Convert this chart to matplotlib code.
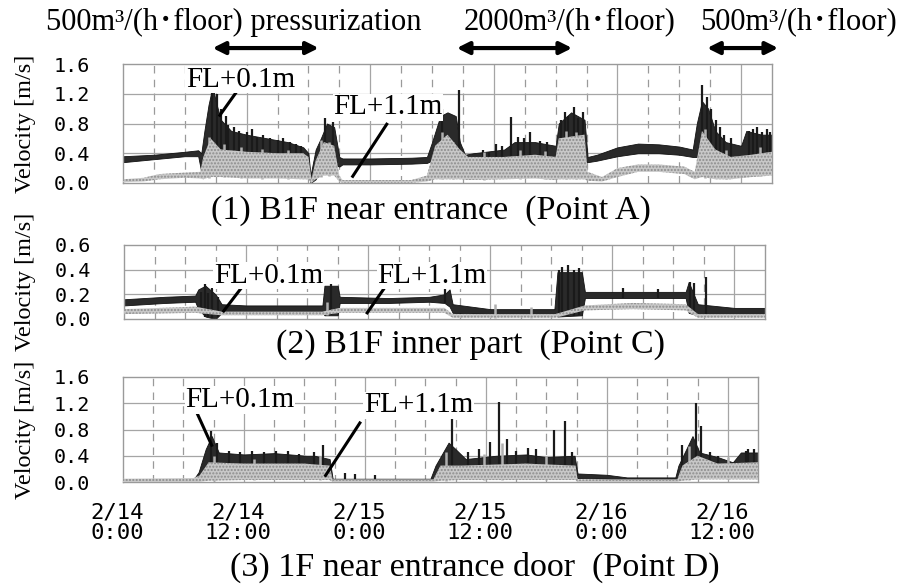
import numpy as np
import matplotlib.pyplot as plt
from matplotlib import transforms

# hours since 2/14 0:00
# (1) B1F near entrance (Point A)
a_blk_t = [0, 3, 6, 7.3, 7.6, 7.9, 8.3, 8.7, 9.0, 9.5, 10.5, 12, 14, 16, 17.5, 18.0, 18.2, 18.7, 19.2, 19.8,
           20.5, 21.0, 21.3, 24, 28, 29.5, 30.0, 30.8, 31.5, 32.3, 32.7, 33.2, 34, 37, 38, 40, 42.0, 42.3,
           43.5, 44.8, 45.1, 46, 48, 50, 52, 54, 55.3, 55.7, 56.2, 56.8, 57.5, 58.5, 60, 60.5, 62, 63]
a_blk_lo = [0.28, 0.32, 0.36, 0.36, 0.15, 0.30, 0.40, 0.50, 0.45, 0.40, 0.35, 0.35, 0.32, 0.32, 0.30, 0.25,
            0.00, 0.05, 0.20, 0.25, 0.25, 0.22, 0.25, 0.25, 0.26, 0.27, 0.30, 0.40, 0.45, 0.40, 0.30, 0.25,
            0.20, 0.25, 0.25, 0.28, 0.25, 0.30, 0.35, 0.30, 0.28, 0.30, 0.36, 0.40, 0.40, 0.38, 0.35, 0.35,
            0.45, 0.40, 0.30, 0.25, 0.25, 0.35, 0.35, 0.40]
a_blk_hi = [0.36, 0.38, 0.42, 0.44, 0.40, 0.70, 1.05, 1.30, 1.10, 0.85, 0.70, 0.65, 0.60, 0.55, 0.48, 0.40,
            0.10, 0.45, 0.60, 0.80, 0.75, 0.35, 0.33, 0.33, 0.34, 0.35, 0.55, 0.90, 0.95, 0.90, 0.55, 0.38,
            0.40, 0.45, 0.55, 0.55, 0.50, 0.80, 0.95, 0.85, 0.35, 0.38, 0.48, 0.53, 0.52, 0.49, 0.45, 0.80,
            1.10, 1.00, 0.70, 0.55, 0.50, 0.70, 0.65, 0.65]
a_spk_t = [8.6, 9.1, 9.5, 10.0, 10.2, 10.8, 11.3, 12.0, 12.5, 13.0, 13.6, 14.3, 15.0, 15.5, 16.2, 16.8, 17.3,
           19.6, 20.4, 31.0, 32.6, 34.9, 35.5, 36.2, 36.8, 37.7, 38.3, 38.9, 39.5, 40.5, 41.2, 42.5, 42.9,
           43.2, 43.8, 44.2, 44.7, 56.2, 56.7, 57.1, 57.6, 58.0, 58.3, 59.0, 60.8, 61.2, 61.5, 62.0, 62.5,
           62.8]
a_spk_v = [1.36, 1.20, 1.00, 0.90, 0.78, 0.75, 0.70, 0.68, 0.72, 0.62, 0.65, 0.60, 0.58, 0.60, 0.55, 0.52,
           0.50, 0.88, 0.82, 1.00, 1.25, 0.45, 0.42, 0.52, 0.50, 0.89, 0.62, 0.60, 0.68, 0.57, 0.55, 0.85,
           0.95, 0.90, 1.02, 0.88, 0.95, 1.32, 1.15, 1.00, 0.85, 0.75, 0.65, 0.60, 0.70, 0.72, 0.75, 0.68,
           0.72, 0.68]
a_gry_t = [0, 2, 3.5, 6, 7.5, 7.8, 8.5, 9.5, 12, 15, 17.5, 18.0, 18.3, 18.7, 19.5, 20.5, 21.0, 21.3, 28,
           29.5, 30.3, 31.5, 32.7, 33.5, 37, 40, 42.0, 42.3, 44.8, 45.1, 46.5, 48, 50, 52, 54.5, 55.5,
           56.2, 57.5, 59, 61, 63]
a_gry_lo = [0.01, 0.02, 0.05, 0.07, 0.06, 0.05, 0.08, 0.08, 0.06, 0.06, 0.05, 0.05, 0.00, 0.05, 0.10, 0.10,
            0.02, 0.00, 0.00, 0.02, 0.05, 0.05, 0.05, 0.04, 0.05, 0.06, 0.04, 0.05, 0.05, 0.03, 0.02, 0.08,
            0.15, 0.15, 0.12, 0.05, 0.08, 0.05, 0.05, 0.08, 0.10]
a_gry_hi = [0.05, 0.07, 0.12, 0.14, 0.15, 0.35, 0.60, 0.45, 0.42, 0.40, 0.40, 0.35, 0.05, 0.30, 0.55, 0.50,
            0.10, 0.04, 0.04, 0.10, 0.50, 0.65, 0.45, 0.35, 0.35, 0.38, 0.35, 0.60, 0.65, 0.15, 0.08, 0.20,
            0.25, 0.25, 0.22, 0.15, 0.70, 0.45, 0.35, 0.38, 0.42]
a_gsp_t = [8.3, 9.8, 11.5, 13.5, 16.0, 19.2, 20.0, 31.0, 32.0, 35.0, 38.5, 41.0, 43.0, 44.0, 56.5, 58.5, 61.8]
a_gsp_v = [0.62, 0.52, 0.48, 0.46, 0.45, 0.58, 0.55, 0.68, 0.55, 0.42, 0.44, 0.43, 0.70, 0.68, 0.72, 0.45, 0.48]

# (2) B1F inner part (Point C)
c_blk_t = [0, 4, 7, 7.3, 8.0, 9.0, 9.6, 12, 16, 19.5, 19.7, 21.0, 21.2, 26, 30, 31.5, 32.0, 32.3, 36, 42.3,
           42.6, 45.0, 45.3, 48, 52, 55.2, 55.5, 56.4, 60, 63]
c_blk_lo = [0.11, 0.13, 0.14, 0.08, 0.02, 0.00, 0.05, 0.06, 0.06, 0.06, 0.03, 0.03, 0.13, 0.13, 0.14, 0.13,
            0.10, 0.05, 0.04, 0.04, 0.02, 0.03, 0.17, 0.17, 0.17, 0.17, 0.05, 0.03, 0.04, 0.04]
c_blk_hi = [0.16, 0.18, 0.19, 0.24, 0.27, 0.20, 0.12, 0.11, 0.11, 0.11, 0.27, 0.27, 0.18, 0.17, 0.18, 0.20,
            0.24, 0.12, 0.08, 0.08, 0.38, 0.38, 0.22, 0.22, 0.22, 0.22, 0.30, 0.12, 0.09, 0.09]
c_spk_t = [7.6, 8.0, 8.3, 8.6, 9.2, 20.3, 31.5, 42.8, 43.0, 43.6, 44.2, 44.7, 49.0, 52.5, 55.6, 56.0, 57.2]
c_spk_v = [0.22, 0.28, 0.21, 0.25, 0.18, 0.28, 0.24, 0.40, 0.42, 0.44, 0.40, 0.41, 0.25, 0.24, 0.30, 0.29, 0.34]
c_gry_t = [0, 7, 9.6, 19.5, 21.2, 31.5, 32.3, 42.4, 45.3, 50, 55.2, 56.4, 63]
c_gry_lo = [0.04, 0.05, 0.03, 0.03, 0.05, 0.05, 0.01, 0.01, 0.07, 0.08, 0.07, 0.01, 0.01]
c_gry_hi = [0.08, 0.10, 0.06, 0.06, 0.09, 0.09, 0.04, 0.04, 0.11, 0.13, 0.12, 0.04, 0.04]
c_gsp_t = [20.0, 36.5, 40.0]
c_gsp_v = [0.14, 0.12, 0.10]

# (3) 1F near entrance door (Point D)
d_blk_t = [0, 7, 7.5, 8.2, 8.8, 9.5, 12, 15, 18.2, 19.0, 20.5, 20.8, 30.5, 31.0, 32.3, 33.0, 34, 37, 40, 42,
           44.8, 45.1, 48, 50, 54.8, 55.1, 56.5, 57.2, 59, 60.5, 61.3, 63]
d_blk_lo = [0.00, 0.00, 0.02, 0.10, 0.20, 0.20, 0.20, 0.22, 0.20, 0.15, 0.10, 0.01, 0.01, 0.05, 0.20, 0.15,
            0.12, 0.15, 0.20, 0.15, 0.15, 0.06, 0.05, 0.03, 0.03, 0.08, 0.30, 0.20, 0.18, 0.15, 0.20, 0.22]
d_blk_hi = [0.03, 0.04, 0.15, 0.50, 0.70, 0.45, 0.42, 0.44, 0.40, 0.40, 0.35, 0.05, 0.05, 0.25, 0.60, 0.50,
            0.35, 0.40, 0.42, 0.38, 0.40, 0.13, 0.11, 0.07, 0.07, 0.25, 0.70, 0.45, 0.38, 0.30, 0.45, 0.45]
d_spk_t = [8.7, 9.3, 10.5, 11.6, 12.8, 14.0, 15.2, 16.4, 17.5, 18.9, 19.8, 22, 23, 25, 32.6, 34.2, 35.3,
           36.4, 37.3, 38.1, 39.0, 40.2, 41.0, 42.8, 43.9, 44.5, 55.5, 56.8, 57.3, 58.2, 59.0, 61.8, 62,
           62.6]
d_spk_v = [0.77, 0.60, 0.48, 0.46, 0.47, 0.45, 0.47, 0.48, 0.42, 0.45, 0.56, 0.13, 0.12, 0.10, 1.02, 0.45,
           0.50, 0.61, 1.22, 0.65, 0.48, 0.52, 0.50, 0.79, 0.93, 0.45, 0.56, 1.21, 0.85, 0.45, 0.40, 0.48,
           0.50, 0.50]
d_gry_t = [0, 7, 7.6, 8.5, 12, 18, 20.5, 20.8, 30.8, 31.5, 33.5, 40, 44.9, 45.1, 55, 55.5, 57, 59, 63]
d_gry_lo = [0.00, 0.00, 0.00, 0.02, 0.03, 0.03, 0.03, 0.00, 0.00, 0.02, 0.03, 0.03, 0.03, 0.00, 0.00, 0.02,
            0.04, 0.04, 0.04]
d_gry_hi = [0.05, 0.06, 0.10, 0.30, 0.28, 0.28, 0.25, 0.04, 0.04, 0.25, 0.25, 0.28, 0.25, 0.04, 0.04, 0.25,
            0.40, 0.28, 0.30]
d_gsp_t = [9.0, 13.0, 19.5, 32.0, 35.8, 37.6, 42.0, 56.2, 60.0]
d_gsp_v = [0.40, 0.35, 0.40, 0.45, 0.42, 0.60, 0.40, 0.55, 0.38]

tick_hours = [0, 12, 24, 36, 48, 60]
tick_text = ['2/14\n0:00', '2/14\n12:00', '2/15\n0:00', '2/15\n12:00', '2/16\n0:00', '2/16\n12:00']

SERIF = ['Liberation Serif', 'Noto Sans CJK JP']
MONO = 'DejaVu Sans Mono'
W, H = 906, 585

fig = plt.figure(figsize=(W / 100, H / 100), dpi=100)


def add_px_axes(l, t, r, b):
    return fig.add_axes([l / W, 1 - b / H, (r - l) / W, (b - t) / H])


def draw_panel(ax, yticks, bt, blo, bhi, st, sv, gt, glo, ghi, gst, gsv):
    ax.set_xlim(0, 63)
    ax.set_ylim(0, yticks[-1])
    for h in range(3, 63, 3):
        if h % 12 == 0:
            ax.axvline(h, color='#a5a5a5', lw=0.9, zorder=0)
        else:
            ax.axvline(h, color='#9a9a9a', lw=0.9, ls=(0, (6, 5)), zorder=0)
    for v in yticks[1:-1]:
        ax.axhline(v, color='#a5a5a5', lw=0.9, zorder=0)
    ax.fill_between(bt, blo, bhi, facecolor='#2a2a2a', edgecolor='#111111', lw=0.6, zorder=2)
    ax.vlines(st, np.interp(st, bt, blo), sv, color='#1a1a1a', lw=1.6, zorder=2)
    ax.vlines(gst, np.interp(gst, gt, glo), gsv, color='#b0b0b0', lw=1.8, zorder=3)
    ax.fill_between(gt, glo, ghi, facecolor='#c8c8c8', edgecolor='#8c8c8c', hatch='.....',
                    lw=0, zorder=3)
    ax.set_yticks(yticks)
    ax.set_yticklabels([f'{v:.1f}' for v in yticks], fontfamily=MONO, fontsize=14.5)
    ax.tick_params(axis='y', length=0, pad=24)
    ax.tick_params(axis='x', length=0)
    ax.set_xticks(tick_hours)
    ax.set_xticklabels([])
    for s in ax.spines.values():
        s.set_color('#9a9a9a')
        s.set_linewidth(1.0)


def fl_label(ax, text, tx, ty, x0, y0, x1, y1):
    ax.plot([x0, x1], [y0, y1], color='black', lw=2.2, zorder=5, clip_on=False)
    ax.text(tx, ty, text, ha='center', va='center', fontfamily=SERIF, fontsize=21, zorder=6,
            clip_on=False, bbox=dict(fc='white', ec='none', pad=0.5))


ax1 = add_px_axes(123, 64, 772, 183)
draw_panel(ax1, [0.0, 0.4, 0.8, 1.2, 1.6], a_blk_t, a_blk_lo, a_blk_hi, a_spk_t, a_spk_v,
           a_gry_t, a_gry_lo, a_gry_hi, a_gsp_t, a_gsp_v)
fl_label(ax1, 'FL+0.1m', 11.4, 1.39, 11.2, 1.26, 9.4, 0.91)
fl_label(ax1, 'FL+1.1m', 25.7, 1.02, 25.6, 0.79, 22.3, 0.09)

ax2 = add_px_axes(124, 245, 765, 319)
draw_panel(ax2, [0.0, 0.2, 0.4, 0.6], c_blk_t, c_blk_lo, c_blk_hi, c_spk_t, c_spk_v,
           c_gry_t, c_gry_lo, c_gry_hi, c_gsp_t, c_gsp_v)
fl_label(ax2, 'FL+0.1m', 14.2, 0.35, 11.7, 0.27, 9.8, 0.065)
fl_label(ax2, 'FL+1.1m', 30.3, 0.35, 25.5, 0.24, 23.9, 0.05)

ax3 = add_px_axes(123, 377, 758, 482)
draw_panel(ax3, [0.0, 0.4, 0.8, 1.2, 1.6], d_blk_t, d_blk_lo, d_blk_hi, d_spk_t, d_spk_v,
           d_gry_t, d_gry_lo, d_gry_hi, d_gsp_t, d_gsp_v)
fl_label(ax3, 'FL+0.1m', 11.6, 1.25, 6.9, 1.2, 8.8, 0.56)
fl_label(ax3, 'FL+1.1m', 29.3, 1.17, 23.5, 0.9, 20.1, 0.1)

ax3.set_xticklabels(tick_text, fontfamily=MONO, fontsize=16, linespacing=1.0)
ax3.tick_params(axis='x', pad=15)
shift = transforms.ScaledTranslation(-6 / 100, 0, fig.dpi_scale_trans)
for lab in ax3.get_xticklabels():
    lab.set_transform(lab.get_transform() + shift)

# velocity labels
for ax in (ax1, ax2, ax3):
    pos = ax.get_position()
    fig.text(25 / W, pos.y0 + pos.height / 2, 'Velocity [m/s]', rotation=90, ha='center', va='center',
             fontfamily=SERIF, fontsize=17.5)

# panel captions
fig.text(431 / W, 1 - 211 / H, '(1) B1F near entrance  (Point A)', ha='center', va='center',
         fontfamily=SERIF, fontsize=24.5)
fig.text(471 / W, 1 - 345 / H, '(2) B1F inner part  (Point C)', ha='center', va='center',
         fontfamily=SERIF, fontsize=24.5)
fig.text(475 / W, 1 - 567 / H, '(3) 1F near entrance door  (Point D)', ha='center', va='center',
         fontfamily=SERIF, fontsize=24.5)

# pressurization periods
fig.text(234 / W, 1 - 22 / H, '500m³/(h･floor) pressurization', ha='center', va='center',
         fontfamily=SERIF, fontsize=22)
fig.text(570 / W, 1 - 22 / H, '2000m³/(h･floor)', ha='center', va='center',
         fontfamily=SERIF, fontsize=22)
fig.text(799 / W, 1 - 22 / H, '500m³/(h･floor)', ha='center', va='center',
         fontfamily=SERIF, fontsize=22)
for h0, h1 in [(8.7, 19.0), (32.4, 43.6), (56.7, 63.6)]:
    ax1.annotate('', xy=(h1, 1.134), xytext=(h0, 1.134), xycoords=('data', 'axes fraction'),
                 textcoords=('data', 'axes fraction'),
                 arrowprops=dict(arrowstyle='<|-|>', color='black', lw=3, mutation_scale=18,
                                 shrinkA=0, shrinkB=0))

fig.savefig('out.png', dpi=100)
